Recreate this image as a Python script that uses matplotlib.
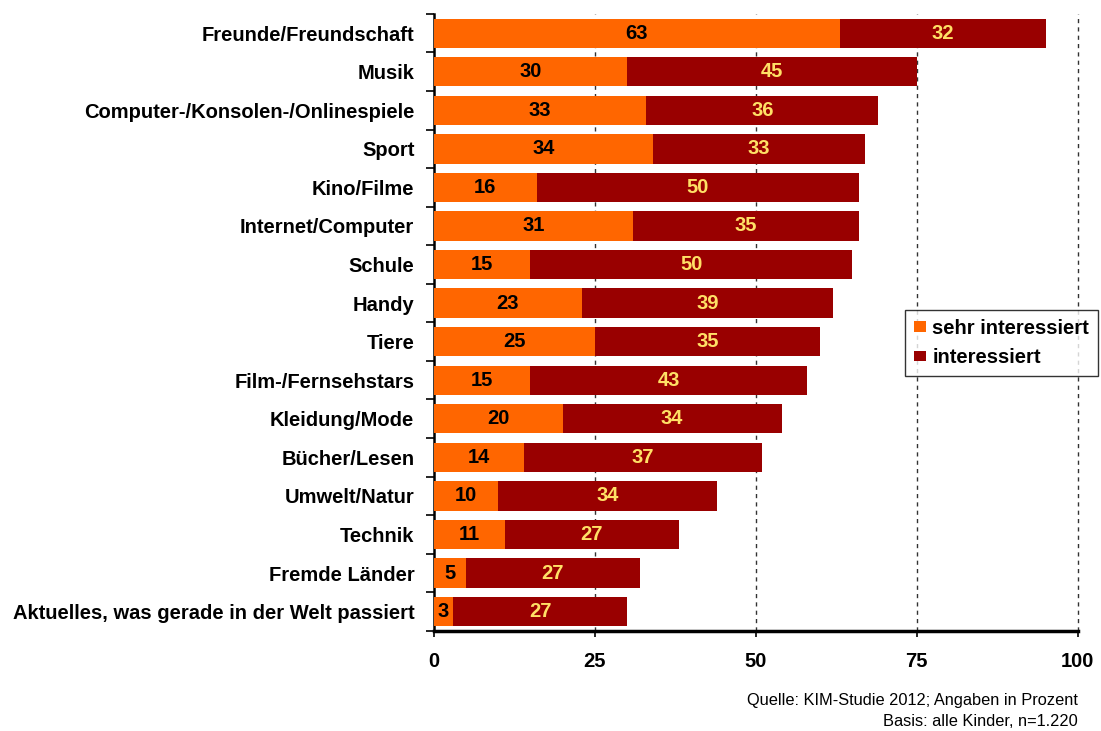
import numpy as np
import matplotlib.pyplot as plt
from matplotlib.patches import Patch

categories = [
    "Freunde/Freundschaft",
    "Musik",
    "Computer-/Konsolen-/Onlinespiele",
    "Sport",
    "Kino/Filme",
    "Internet/Computer",
    "Schule",
    "Handy",
    "Tiere",
    "Film-/Fernsehstars",
    "Kleidung/Mode",
    "Bücher/Lesen",
    "Umwelt/Natur",
    "Technik",
    "Fremde Länder",
    "Aktuelles, was gerade in der Welt passiert",
]
sehr_interessiert = [63, 30, 33, 34, 16, 31, 15, 23, 25, 15, 20, 14, 10, 11, 5, 3]
interessiert = [32, 45, 36, 33, 50, 35, 50, 39, 35, 43, 34, 37, 34, 27, 27, 27]
x_ticks = [0, 25, 50, 75, 100]

ORANGE = "#FF6600"
DARKRED = "#990000"
YELLOW = "#FFE066"
FS = 14.5

plt.rcParams["font.family"] = ["Liberation Sans", "DejaVu Sans"]

fig = plt.figure(figsize=(11.01, 7.31), dpi=100)
ax = fig.add_axes([0.394, 0.137, 0.585, 0.844])

n = len(categories)
y = np.arange(n)
a = np.array(sehr_interessiert)
b = np.array(interessiert)

ax.barh(y, a, height=0.76, color=ORANGE, zorder=3)
ax.barh(y, b, left=a, height=0.76, color=DARKRED, zorder=3)

for yi, va, vb in zip(y, a, b):
    ax.text(va / 2, yi, str(va), ha="center", va="center",
            fontsize=FS, fontweight="bold", color="black", zorder=4)
    ax.text(va + vb / 2, yi, str(vb), ha="center", va="center",
            fontsize=FS, fontweight="bold", color=YELLOW, zorder=4)

ax.set_ylim(n - 0.5, -0.5)
ax.set_xlim(0, 100)
ax.set_xticks(x_ticks)
ax.set_xticklabels([str(t) for t in x_ticks], fontsize=FS, fontweight="bold")
ax.tick_params(axis="x", length=4, width=1.2, pad=11)

ax.set_yticks(y)
ax.set_yticklabels(categories, fontsize=FS, fontweight="bold")
ax.set_yticks(np.arange(n + 1) - 0.5, minor=True)
ax.tick_params(axis="y", which="major", length=0, pad=14)
ax.tick_params(axis="y", which="minor", length=6, width=1.2)

for t in x_ticks[1:]:
    ax.axvline(t, color="#333333", lw=1, ls=(0, (3, 3)), zorder=1, clip_on=False)

for side in ("top", "right"):
    ax.spines[side].set_visible(False)
ax.spines["left"].set_linewidth(1.8)
ax.spines["bottom"].set_linewidth(2.5)

handles = [Patch(facecolor=ORANGE, label="sehr interessiert"),
           Patch(facecolor=DARKRED, label="interessiert")]
leg = fig.legend(handles=handles, loc="upper left",
                 bbox_to_anchor=(905 / 1101, 1 - 310 / 731),
                 prop={"size": FS, "weight": "bold"},
                 frameon=True, fancybox=False, handlelength=0.6,
                 handleheight=0.45, handletextpad=0.3, labelspacing=0.5,
                 borderpad=0.45, borderaxespad=0)
leg.get_frame().set_edgecolor("black")
leg.get_frame().set_linewidth(1.0)

fig.text(1078 / 1101, 1 - 700 / 731, "Quelle: KIM-Studie 2012; Angaben in Prozent",
         ha="right", va="center", fontsize=11.8)
fig.text(1078 / 1101, 1 - 722 / 731, "Basis: alle Kinder, n=1.220",
         ha="right", va="center", fontsize=11.8)

fig.savefig("out.png", dpi=100)
